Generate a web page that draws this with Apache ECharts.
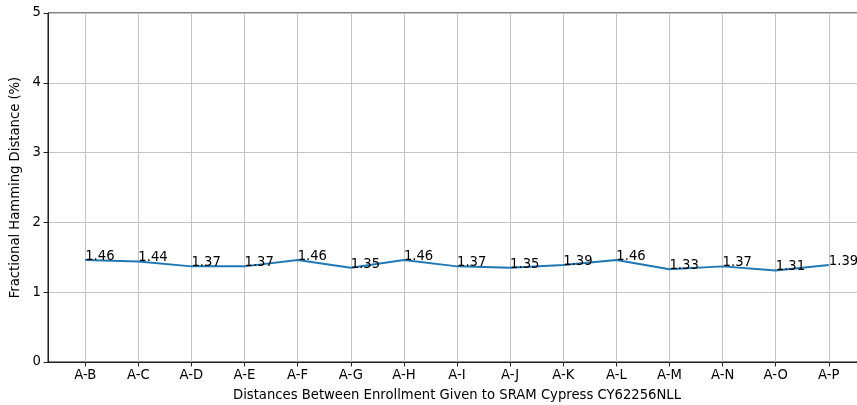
<!DOCTYPE html>
<html>
<head>
<meta charset="utf-8">
<script src="https://cdn.jsdelivr.net/npm/echarts@6/dist/echarts.min.js"></script>
<style>html,body{margin:0;padding:0;background:#fff}#c{width:857px;height:405px}</style>
</head>
<body>
<div id="c"></div>
<script>
const categories = ['A-B','A-C','A-D','A-E','A-F','A-G','A-H','A-I','A-J','A-K','A-L','A-M','A-N','A-O','A-P'];
const values = [1.46,1.44,1.37,1.37,1.46,1.35,1.46,1.37,1.35,1.39,1.46,1.33,1.37,1.31,1.39];
const yTicks = [0,1,2,3,4,5];

const FONT = 'DejaVu Sans';
const FS = 13.2;
const idx = categories.map((c,i)=>i);
const chart = echarts.init(document.getElementById('c'), null, {renderer:'canvas'});
chart.setOption({
  animation:false,
  backgroundColor:'#fff',
  textStyle:{fontFamily:FONT},
  grid:{left:48, top:13, width:818, height:349, containLabel:false, outerBoundsMode:'none',
        show:true, borderColor:'#111', borderWidth:1, backgroundColor:'transparent'},
  xAxis:{
    type:'value', min:-0.7, max:14.7,
    name:'Distances Between Enrollment Given to SRAM Cypress CY62256NLL',
    nameLocation:'middle', nameGap:27,
    nameTextStyle:{fontFamily:FONT, fontSize:FS, color:'#000'},
    axisLine:{show:true, onZero:false, lineStyle:{color:'#222', width:1}},
    axisTick:{show:true, length:4.5, inside:false, customValues:idx, lineStyle:{color:'#222', width:1}},
    axisLabel:{show:true, customValues:idx, margin:7, fontFamily:FONT, fontSize:FS, color:'#000',
      formatter:function(v){const i=Math.round(v); return categories[i]!==undefined && Math.abs(v-i)<1e-6 ? categories[i] : '';}},
    splitLine:{show:true, lineStyle:{color:'#c4c4c4', width:1}}
  },
  yAxis:{
    type:'value', min:0, max:5, interval:1,
    name:'Fractional Hamming Distance (%)',
    nameLocation:'middle', nameGap:24,
    nameTextStyle:{fontFamily:FONT, fontSize:FS, color:'#000'},
    axisLine:{show:true, onZero:false, lineStyle:{color:'#222', width:1}},
    axisTick:{show:true, length:4.5, lineStyle:{color:'#222', width:1}},
    axisLabel:{margin:7, fontFamily:FONT, fontSize:FS, color:'#000', formatter:function(v){return yTicks.indexOf(v)>=0?String(v):'';}},
    splitLine:{show:true, lineStyle:{color:'#c4c4c4', width:1}}
  },
  series:[{
    type:'line',
    data: values.map((v,i)=>[i,v]),
    showSymbol:true,
    symbol:'circle',
    symbolSize:0.01,
    itemStyle:{color:'#1f77b4'},
    lineStyle:{color:'#1f77b4', width:2},
    label:{show:true, position:[0,3], align:'left', verticalAlign:'bottom', fontFamily:FONT, fontSize:FS, color:'#000',
      formatter:function(p){return p.value[1].toFixed(2);}},
    labelLayout:{hideOverlap:false},
    clip:false
  }]
});
</script>
</body>
</html>
